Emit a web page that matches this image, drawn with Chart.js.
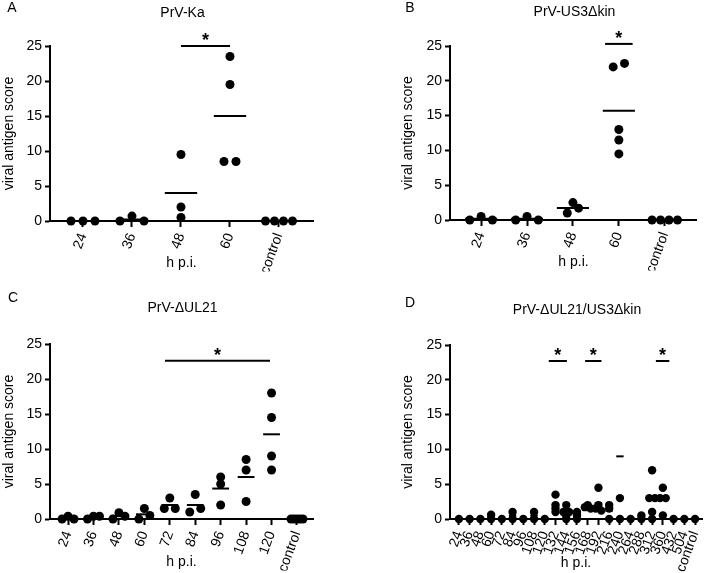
<!DOCTYPE html>
<html><head><meta charset="utf-8">
<script src="https://cdn.jsdelivr.net/npm/chart.js@4.4.0/dist/chart.umd.min.js"></script>
<style>
html,body{margin:0;padding:0;background:#fff;width:715px;height:573px;overflow:hidden;}
canvas{position:absolute;left:0;top:0;}
</style></head><body>
<canvas id="cA" width="715" height="573"></canvas>
<canvas id="cB" width="715" height="573"></canvas>
<canvas id="cC" width="715" height="573"></canvas>
<canvas id="cD" width="715" height="573"></canvas>
<script>
// ---------------- DATA ----------------
const yTicks = [0, 5, 10, 15, 20, 25];

const catsA = ['24', '36', '48', '60', 'control'];
const valuesA = [[0, 0, 0], [0, 0.7, 0], [9.5, 2, 0.5], [23.5, 19.5, 8.5, 8.5], [0, 0, 0, 0]];
const meansA = [0, 0.23, 4, 15, 0];
const sigA = [{from: 2, to: 3, level: 25}];

const catsB = ['24', '36', '48', '60', 'control'];
const valuesB = [[0, 0.5, 0], [0, 0.5, 0], [1, 2.5, 1.7], [22, 22.5, 13, 11.5, 9.5], [0, 0, 0, 0]];
const meansB = [0.17, 0.17, 1.73, 15.7, 0];
const sigB = [{from: 2.7, to: 3.3, level: 25.3}];

const catsC = ['24', '36', '48', '60', '72', '84', '96', '108', '120', 'control'];
const valuesC = [[0, 0.4, 0], [0, 0.4, 0.4], [0, 0.9, 0.4], [0, 1.5, 0.5], [3, 1.5, 1.5],
                 [1, 3.5, 1.5], [6, 5, 2], [8.5, 7, 2.5], [18, 14.5, 9, 7], [0, 0, 0, 0, 0]];
const meansC = [0.13, 0.27, 0.45, 0.67, 2, 2, 4.35, 6, 12.1, 0];
const sigC = [{from: 3.81, to: 7.94, level: 22.6}];

const catsD = ['24', '36', '48', '60', '72', '84', '96', '108', '120', '132', '144', '156', '168',
               '192', '216', '240', '264', '288', '312', '360', '432', '504', 'control'];
const valuesD = [[0], [0], [0], [0, 0.6], [0], [1, 0], [0], [1, 0], [0], [3.5, 2, 1.5, 1],
                 [2, 1, 1, 0.5, 0], [1, 0.5, 0], [2, 1.7, 1.5], [4.5, 2, 1.5, 1.2], [2, 1.5, 0],
                 [3, 0], [0], [0.5, 0], [7, 3, 3, 1, 0], [4.5, 3, 3, 0.5], [0], [0], [0]];
const meansD = [0, 0, 0, 0.3, 0, 0.5, 0, 0.5, 0, 2, 0.9, 0.5, 1.75, 2.3, 1.2, 9, 0, 0.25, 2.8, 2.75, 0, 0, 0];
const sigD = [{from: 8.37, to: 10.06, level: 22.7}, {from: 11.76, to: 13.28, level: 22.7}, {from: 18.35, to: 19.6, level: 22.7}];

// ---------------- LAYOUT / STYLE ----------------
const FONT = '"Liberation Sans", Arial, Helvetica, sans-serif';
const W = 715, H = 573;

const panels = [
  {id: 'cA', letter: 'A', title: 'PrV-Ka', cats: catsA, values: valuesA, means: meansA, sig: sigA,
   left: 50, right: 313, top: 46, bottom: 221, xmin: -0.673, xmax: 4.694,
   yTitleX: 9, xTitleY: 263, titleY: 13, letterX: 12, letterY: 8,
   tol: 6.5, spacing: 12, maxRow: 27, dotR: 4.5},
  {id: 'cB', letter: 'B', title: 'PrV-US3\u0394kin', cats: catsB, values: valuesB, means: meansB, sig: sigB,
   left: 450, right: 712, top: 46, bottom: 220, xmin: -0.677, xmax: 4.70,
   yTitleX: 408, xTitleY: 262, titleY: 12, letterX: 410, letterY: 8,
   tol: 6.5, spacing: 12, maxRow: 27, dotR: 4.5},
  {id: 'cC', letter: 'C', title: 'PrV-\u0394UL21', cats: catsC, values: valuesC, means: meansC, sig: sigC,
   left: 50, right: 313, top: 344, bottom: 519, xmin: -0.71, xmax: 9.63,
   yTitleX: 9, xTitleY: 562, titleY: 308, letterX: 13, letterY: 298,
   tol: 6.5, spacing: 11, maxRow: 12, dotR: 4.5},
  {id: 'cD', letter: 'D', title: 'PrV-\u0394UL21/US3\u0394kin', cats: catsD, values: valuesD, means: meansD, sig: sigD,
   left: 450, right: 713, top: 345, bottom: 519, xmin: -0.83, xmax: 22.65,
   yTitleX: 408, xTitleY: 563, titleY: 310, letterX: 410, letterY: 303,
   tol: 3, spacing: 6, maxRow: 6, dotR: 4.2}
];

// horizontal spread of overlapping points (in category units)
function swarm(values, pxPerUnit, pxPerCat, tolPx, spacingPx, maxRowPx) {
  const idx = values.map((v, i) => i).sort((a, b) => values[a] - values[b]);
  const offs = new Array(values.length).fill(0);
  let k = 0;
  while (k < idx.length) {
    const start = values[idx[k]];
    const cl = [];
    while (k < idx.length && (values[idx[k]] - start) * pxPerUnit <= tolPx + 1e-9) { cl.push(idx[k]); k++; }
    cl.sort((a, b) => a - b);
    const n = cl.length;
    if (n > 1) {
      const sp = Math.min(spacingPx, maxRowPx / (n - 1));
      cl.forEach((p, j) => { offs[p] = (j - (n - 1) / 2) * sp / pxPerCat; });
    }
  }
  return offs;
}

function makePlugin(p) {
  return {
    id: 'deco' + p.letter,
    afterDraw(chart) {
      const ctx = chart.ctx, xs = chart.scales.x, ys = chart.scales.y, ca = chart.chartArea;
      ctx.save();
      ctx.fillStyle = '#000';
      ctx.font = '14px ' + FONT;
      ctx.textAlign = 'center';
      ctx.textBaseline = 'middle';
      ctx.fillText(p.title, (ca.left + ca.right) / 2 + 1, p.titleY);
      ctx.fillText(p.letter, p.letterX, p.letterY);
      ctx.strokeStyle = '#000';
      ctx.lineWidth = 2;
      p.sig.forEach(s => {
        const x1 = xs.getPixelForValue(s.from), x2 = xs.getPixelForValue(s.to);
        const y = ys.getPixelForValue(s.level);
        ctx.beginPath(); ctx.moveTo(x1, y); ctx.lineTo(x2, y); ctx.stroke();
        ctx.font = 'bold 18px ' + FONT;
        ctx.textBaseline = 'alphabetic';
        ctx.fillText('*', (x1 + x2) / 2, y - 10 + 0.57 * 18);
      });
      ctx.restore();
    }
  };
}

panels.forEach(p => {
  const pxPerUnit = (p.bottom - p.top) / 25;
  const pxPerCat = (p.right - p.left) / (p.xmax - p.xmin);
  const pts = [];
  p.values.forEach((grp, i) => {
    const offs = swarm(grp, pxPerUnit, pxPerCat, p.tol, p.spacing, p.maxRow);
    grp.forEach((v, j) => pts.push({x: i + offs[j], y: v}));
  });
  const meanPts = p.means.map((m, i) => ({x: i, y: m}));
  const yw = p.left - p.yTitleX + 12;
  const xh = p.xTitleY - p.bottom + 8.4;

  new Chart(document.getElementById(p.id), {
    type: 'scatter',
    data: {
      datasets: [
        {data: meanPts, pointStyle: 'line', pointRadius: 0.33 * pxPerCat, pointBorderWidth: 2,
         borderColor: '#000', backgroundColor: '#000', pointHoverRadius: 0, clip: false},
        {data: pts, pointStyle: 'circle', pointRadius: p.dotR, pointBorderWidth: 0,
         borderColor: '#000', backgroundColor: '#000', clip: false}
      ]
    },
    options: {
      responsive: false,
      animation: false,
      events: [],
      layout: {padding: {left: p.left - yw, right: W - p.right, top: p.top, bottom: H - p.bottom - xh}},
      plugins: {legend: {display: false}, tooltip: {enabled: false}, title: {display: false}},
      scales: {
        x: {
          type: 'linear', min: p.xmin, max: p.xmax,
          afterBuildTicks: s => { s.ticks = p.cats.map((c, i) => ({value: i})); },
          afterFit: s => { s.height = xh; },
          grid: {display: true, drawOnChartArea: false, drawTicks: true, tickLength: 6, tickColor: '#000', tickWidth: 2},
          border: {display: true, color: '#000', width: 2},
          ticks: {autoSkip: false, minRotation: 70, maxRotation: 70, padding: 4, color: '#000',
                  font: {size: 14, family: FONT},
                  callback: (v, i) => p.cats[i]},
          title: {display: true, text: 'h p.i.', color: '#000', font: {size: 14, family: FONT},
                  padding: {top: 0, bottom: 0}}
        },
        y: {
          min: 0, max: 25,
          afterBuildTicks: s => { s.ticks = yTicks.map(v => ({value: v})); },
          afterFit: s => { s.width = yw; },
          grid: {display: true, drawOnChartArea: false, drawTicks: true, tickLength: 5, tickColor: '#000', tickWidth: 2},
          border: {display: true, color: '#000', width: 2},
          ticks: {padding: 3, color: '#000', font: {size: 14, family: FONT}},
          title: {display: true, text: 'viral antigen score', color: '#000', font: {size: 14, family: FONT},
                  padding: {top: 3.6, bottom: 0}}
        }
      }
    },
    plugins: [makePlugin(p)]
  });
});
</script>
</body></html>
